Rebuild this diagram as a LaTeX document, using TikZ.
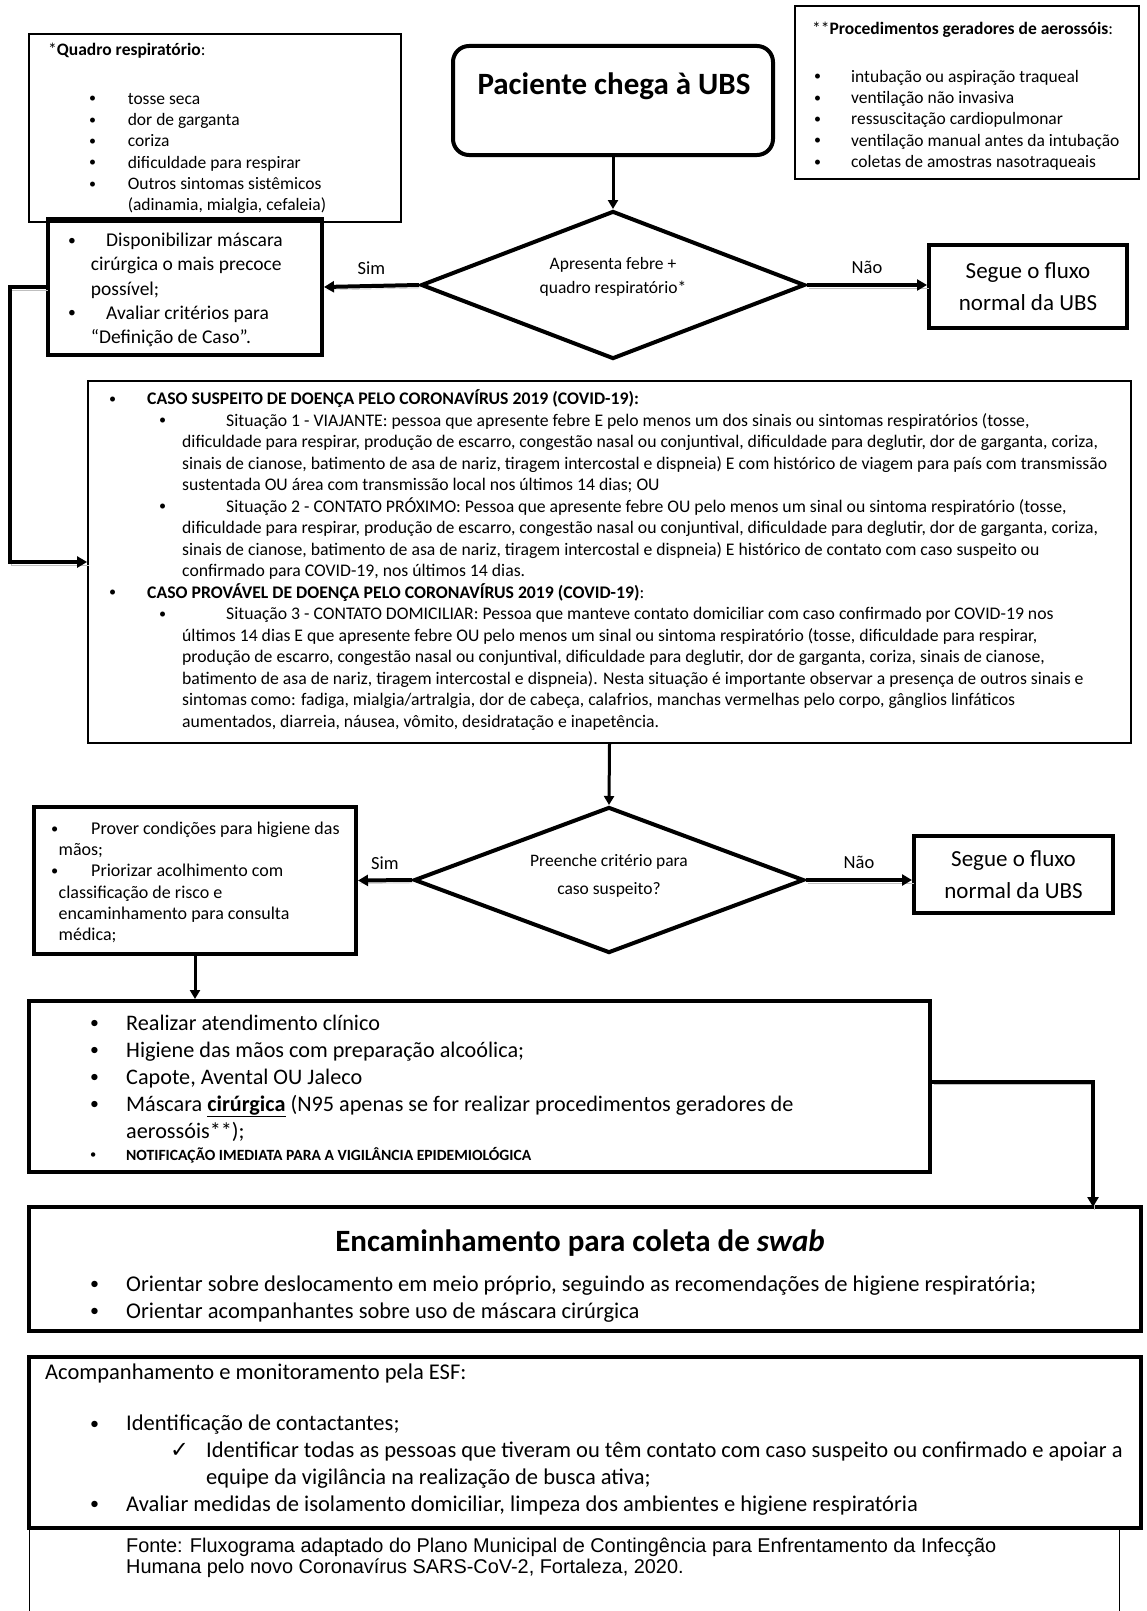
\documentclass[tikz,border=0pt]{standalone}
\usepackage{fontspec}
\setmainfont{Carlito}
\newfontfamily\arialfont{Liberation Sans}
\newfontfamily\symbfont{DejaVu Sans}
\usetikzlibrary{positioning, arrows.meta, fit, shapes.geometric}

% bullet at an offset, text after a fixed tab
\newcommand{\bul}[2]{\hspace*{#1}\makebox[#2][l]{\raisebox{.08em}{\scalebox{.8}{\textbullet}}}}

\begin{document}
\begin{tikzpicture}[
		x=1pt,
		y=-1pt,
		font=\fontsize{17.5}{21.3}\selectfont,
		box/.style={draw, line width=1.3pt, inner sep=0pt},
		boldbox/.style={draw, line width=4pt, inner sep=0pt},
		endbox/.style={draw, line width=4pt, align=center, font=\fontsize{23}{31.5}\selectfont},
		decision/.style={draw, diamond, line width=4pt, inner sep=0pt},
		txt/.style={align=left, inner sep=0pt, anchor=base west},
		lbl/.style={inner sep=0pt, font=\fontsize{18.5}{22}\selectfont},
		arr/.style={-{Triangle[length=10pt,width=11pt]}, line width=4pt,
			preaction={draw=gray!50, -, transform canvas={shift={(1.5pt,-3pt)}}}},
		arrthin/.style={-{Triangle[length=9pt,width=10pt]}, line width=3pt}
		]
		\useasboundingbox (0,0) rectangle (1147,1611);
		
		% Notes at the top (text nodes sit on the baseline of their last line)
		\node[box, fit={(29,34) (401,222)}] (quadro) {};
		\node[txt] (quadroT) at (48,210.7) {%
			*\textbf{Quadro respiratório}:\\[27.9pt]
			\bul{41pt}{38.6pt}tosse seca\\
			\bul{41pt}{38.6pt}dor de garganta\\
			\bul{41pt}{38.6pt}coriza\\
			\bul{41pt}{38.6pt}dificuldade para respirar\\
			\bul{41pt}{38.6pt}Outros sintomas sistêmicos\\
			\hspace*{79.6pt}(adinamia, mialgia, cefaleia)};
		
		\node[box, fit={(795,6) (1139,179)}] (proced) {};
		\node[txt] (procedT) at (812,167.5) {%
			**\textbf{Procedimentos geradores de aerossóis}:\\[26.7pt]
			\bul{2pt}{37pt}intubação ou aspiração traqueal\\
			\bul{2pt}{37pt}ventilação não invasiva\\
			\bul{2pt}{37pt}ressuscitação cardiopulmonar\\
			\bul{2pt}{37pt}ventilação manual antes da intubação\\
			\bul{2pt}{37pt}coletas de amostras nasotraqueais};
		
		% Start
		\node[boldbox, rounded corners=16pt, fit={(453,46) (773,155)}] (paciente) {};
		\node[inner sep=0pt, font=\bfseries\fontsize{31}{36}\selectfont] (pacienteT) at (614,86) {Paciente chega à UBS};
		
		% First decision
		\node[decision, minimum width=384pt, minimum height=148pt] (febre) at (613,285) {};
		\node[align=center, inner sep=0pt, font=\fontsize{17.5}{24}\selectfont] (febreT) at (613,277) {Apresenta febre +\\quadro respiratório*};
		
		\node[boldbox, fit={(48,219) (322,355)}] (mascara) {};
		\node[txt, font=\fontsize{19.5}{24.2}\selectfont] (mascaraT) at (68,343.5) {%
			\bul{0pt}{38pt}Disponibilizar máscara\\
			\hspace*{22.7pt}cirúrgica o mais precoce\\
			\hspace*{22.7pt}possível;\\
			\bul{0pt}{38pt}Avaliar critérios para\\
			\hspace*{22.7pt}“Definição de Caso”.};
		
		\node[endbox, minimum width=198pt, minimum height=83pt] (fluxoA) at (1028,286.5) {Segue o fluxo\\normal da UBS};
		
		% Case definition
		\node[draw, line width=1.8pt, inner sep=0pt, fit={(88,381) (1131,743)}] (definicao) {};
		\node[txt, font=\fontsize{17.7}{21.5}\selectfont] (definicaoT) at (109,727) {%
			\bul{0pt}{38pt}\textbf{CASO SUSPEITO DE DOENÇA PELO CORONAVÍRUS 2019 (COVID-19):}\\
			\bul{50pt}{67pt}Situação 1 - VIAJANTE: pessoa que apresente febre E pelo menos um dos sinais ou sintomas respiratórios (tosse,\\
			\hspace*{73pt}dificuldade para respirar, produção de escarro, congestão nasal ou conjuntival, dificuldade para deglutir, dor de garganta, coriza,\\
			\hspace*{73pt}sinais de cianose, batimento de asa de nariz, tiragem intercostal e dispneia) E com histórico de viagem para país com transmissão\\
			\hspace*{73pt}sustentada OU área com transmissão local nos últimos 14 dias; OU\\
			\bul{50pt}{67pt}Situação 2 - CONTATO PRÓXIMO: Pessoa que apresente febre OU pelo menos um sinal ou sintoma respiratório (tosse,\\
			\hspace*{73pt}dificuldade para respirar, produção de escarro, congestão nasal ou conjuntival, dificuldade para deglutir, dor de garganta, coriza,\\
			\hspace*{73pt}sinais de cianose, batimento de asa de nariz, tiragem intercostal e dispneia) E histórico de contato com caso suspeito ou\\
			\hspace*{73pt}confirmado para COVID-19, nos últimos 14 dias.\\
			\bul{0pt}{38pt}\textbf{CASO PROVÁVEL DE DOENÇA PELO CORONAVÍRUS 2019 (COVID-19)}:\\
			\bul{50pt}{67pt}Situação 3 - CONTATO DOMICILIAR: Pessoa que manteve contato domiciliar com caso confirmado por COVID-19 nos\\
			\hspace*{73pt}últimos 14 dias E que apresente febre OU pelo menos um sinal ou sintoma respiratório (tosse, dificuldade para respirar,\\
			\hspace*{73pt}produção de escarro, congestão nasal ou conjuntival, dificuldade para deglutir, dor de garganta, coriza, sinais de cianose,\\
			\hspace*{73pt}batimento de asa de nariz, tiragem intercostal e dispneia). Nesta situação é importante observar a presença de outros sinais e\\
			\hspace*{73pt}sintomas como: fadiga, mialgia/artralgia, dor de cabeça, calafrios, manchas vermelhas pelo corpo, gânglios linfáticos\\
			\hspace*{73pt}aumentados, diarreia, náusea, vômito, desidratação e inapetência.};
		
		% Second decision
		\node[decision, minimum width=390pt, minimum height=146pt] (criterio) at (609,880) {};
		\node[align=center, inner sep=0pt, font=\fontsize{17.5}{28}\selectfont] (criterioT) at (609,876) {Preenche critério para\\caso suspeito?};
		
		\node[boldbox, fit={(34,807) (356,954)}] (higiene) {};
		\node[txt, font=\fontsize{18}{21.1}\selectfont] (higieneT) at (51,940.2) {%
			\bul{0pt}{40pt}Prover condições para higiene das\\
			\hspace*{7.5pt}mãos;\\
			\bul{0pt}{40pt}Priorizar acolhimento com\\
			\hspace*{7.5pt}classificação de risco e\\
			\hspace*{7.5pt}encaminhamento para consulta\\
			\hspace*{7.5pt}médica;};
		
		\node[endbox, minimum width=199pt, minimum height=77pt] (fluxoB) at (1013.5,874.5) {Segue o fluxo\\normal da UBS};
		
		% Care
		\node[boldbox, fit={(29,1001) (930,1172)}] (atendimento) {};
		\node[txt, font=\fontsize{22.2}{27}\selectfont] (atendimentoT) at (90,1160) {%
			\bul{0pt}{36pt}Realizar atendimento clínico\\
			\bul{0pt}{36pt}Higiene das mãos com preparação alcoólica;\\
			\bul{0pt}{36pt}Capote, Avental OU Jaleco\\
			\bul{0pt}{36pt}Máscara \textbf{\underline{cirúrgica}} (N95 apenas se for realizar procedimentos geradores de\\
			\hspace*{36pt}aerossóis**);\\[-5.5pt]
			{\fontsize{15.6}{18}\selectfont\bul{0pt}{36pt}\textbf{NOTIFICAÇÃO IMEDIATA PARA A VIGILÂNCIA EPIDEMIOLÓGICA}}};
		
		% Swab
		\node[boldbox, fit={(29,1207) (1141,1331)}] (swab) {};
		\node[inner sep=0pt, font=\bfseries\fontsize{31}{36}\selectfont] (swabT) at (580,1243) {Encaminhamento para coleta de \textit{swab}};
		\node[txt, font=\fontsize{22.5}{27}\selectfont] (swabL) at (90,1318) {%
			\bul{0pt}{36pt}Orientar sobre deslocamento em meio próprio, seguindo as recomendações de higiene respiratória;\\
			\bul{0pt}{36pt}Orientar acompanhantes sobre uso de máscara cirúrgica};
		
		% Follow-up
		\node[boldbox, fit={(29,1357) (1141,1528)}] (esf) {};
		\node[txt, font=\fontsize{22.5}{26.7}\selectfont] (esfT) at (45,1511) {%
			Acompanhamento e monitoramento pela ESF:\\[25pt]
			\bul{45pt}{36pt}Identificação de contactantes;\\
			\hspace*{125pt}\makebox[36pt][l]{\symbfont ✓}Identificar todas as pessoas que tiveram ou têm contato com caso suspeito ou confirmado e apoiar a\\
			\hspace*{161pt}equipe da vigilância na realização de busca ativa;\\
			\bul{45pt}{36pt}Avaliar medidas de isolamento domiciliar, limpeza dos ambientes e higiene respiratória};
		
		% Source
		\draw[line width=1pt] (29,1611) |- (1119,1528) -- (1119,1611);
		\node[txt, font=\arialfont\fontsize{19.9}{21.6}\selectfont] (fonteT) at (126,1573.6) {%
			Fonte: Fluxograma adaptado do Plano Municipal de Contingência para Enfrentamento da Infecção\\
			Humana pelo novo Coronavírus SARS-CoV-2, Fortaleza, 2020.};
		
		% Connectors
		\coordinate (swabIn) at (1093,1207);
		\draw[arrthin] (paciente.south) -- (febre.north);
		\draw[arr] (febre.west) -- (mascara.east) node[lbl, midway, above=9pt] {Sim};
		\draw[arr] (febre.east) -- (febre.east -| fluxoA.west) node[lbl, midway, above=9pt] {Não};
		\draw[arr] (mascara.west) -- ++(-36,0) |- (definicao.west);
		\draw[arrthin] (definicao.south) -- (criterio.north);
		\draw[arr] (criterio.west) -- (higiene.east) node[lbl, midway, above=9pt] {Sim};
		\draw[arr] (criterio.east) -- (criterio.east -| fluxoB.west) node[lbl, midway, above=9pt] {Não};
		\draw[arrthin] (higiene.south) -- (higiene.south |- atendimento.north);
		\draw[arr] ([yshift=5pt]atendimento.east) -| (swabIn);
	\end{tikzpicture}
\end{document}
